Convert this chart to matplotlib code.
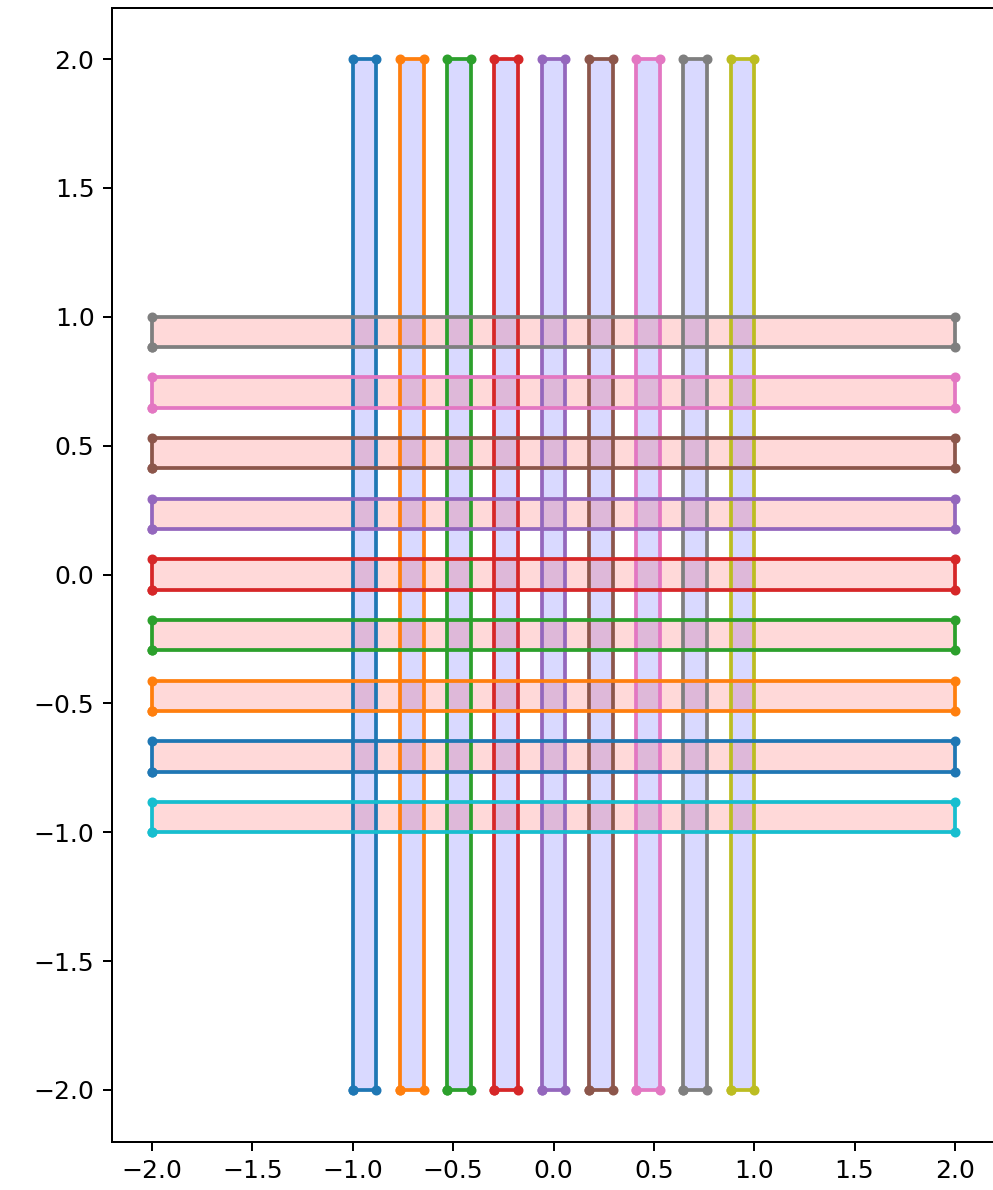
import matplotlib
matplotlib.use("Agg")
import matplotlib.pyplot as plt

# strip edges (same for the vertical and the horizontal strips)
lo_edges = [-1.0, -0.765, -0.529, -0.294, -0.059, 0.176, 0.412, 0.647, 0.882]
hi_edges = [-0.882, -0.647, -0.412, -0.176, 0.059, 0.294, 0.529, 0.765, 1.0]
span = [-2.0, 2.0]

dpi = 180
fig = plt.figure(figsize=(993 / dpi, 1190 / dpi), dpi=dpi)
ax = fig.add_axes([112 / 993, 48.5 / 1190, 883 / 993, 1134 / 1190])

# vertical strips
for a, b in zip(lo_edges, hi_edges):
    xs = [a, b, b, a, a]
    ys = [span[0], span[0], span[1], span[1], span[0]]
    ax.fill(xs, ys, color="blue", alpha=0.15, lw=0)
    ax.plot(xs, ys, ".-")

# horizontal strips
for a, b in zip(lo_edges, hi_edges):
    xs = [span[0], span[1], span[1], span[0], span[0]]
    ys = [a, a, b, b, a]
    ax.fill(xs, ys, color="red", alpha=0.15, lw=0)
    ax.plot(xs, ys, ".-")

ax.set_xlim(-2.2, 2.2)
ax.set_ylim(-2.2, 2.2)

fig.savefig("out.png", dpi=dpi)
